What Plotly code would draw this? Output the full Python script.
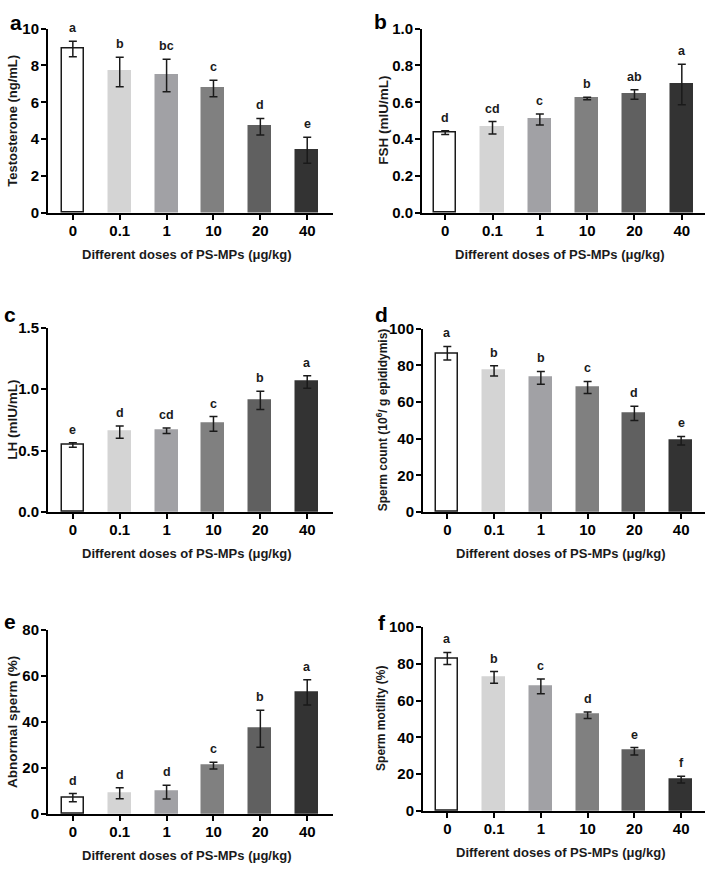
import plotly.graph_objects as go

doses = ["0", "0.1", "1", "10", "20", "40"]
bar_colors = ["#ffffff", "#d4d4d4", "#a1a1a5", "#808080", "#606060", "#333333"]

testo = [8.9, 7.65, 7.46, 6.75, 4.68, 3.4]
testo_err = [0.42, 0.8, 0.88, 0.45, 0.45, 0.7]
testo_lab = ["a", "b", "bc", "c", "d", "e"]

fsh = [0.436, 0.462, 0.507, 0.621, 0.643, 0.697]
fsh_err = [0.01, 0.034, 0.03, 0.007, 0.026, 0.11]
fsh_lab = ["d", "cd", "c", "b", "ab", "a"]

lh = [0.545, 0.65, 0.661, 0.717, 0.908, 1.058]
lh_err = [0.018, 0.05, 0.022, 0.06, 0.074, 0.05]
lh_lab = ["e", "d", "cd", "c", "b", "a"]

sperm_count = [86.6, 77.0, 73.2, 67.9, 53.8, 38.9]
sperm_count_err = [3.7, 2.8, 3.5, 3.3, 3.9, 2.3]
sperm_count_lab = ["a", "b", "b", "c", "d", "e"]

abnormal = [7.1, 9.0, 9.5, 21.0, 37.0, 52.8]
abnormal_err = [1.8, 2.4, 3.0, 1.5, 8.0, 5.5]
abnormal_lab = ["d", "d", "d", "c", "b", "a"]

motility = [82.8, 72.5, 67.7, 52.0, 32.5, 17.1]
motility_err = [3.3, 3.2, 4.0, 1.8, 2.0, 1.8]
motility_lab = ["a", "b", "c", "d", "e", "f"]

W, H = 709, 875
FONT = "Liberation Sans, Arial, sans-serif"
INK = "#1a1a1a"

panels = [
    dict(letter="a", vals=testo, err=testo_err, lab=testo_lab, ytitle="Testosterone (ng/mL)",
         yr=[0, 10], dtick=2, fmt="d", px=(48, 333), py=(20, 208), xr=[-0.53, 5.55],
         ytx=13, ltr=(16, 14), tsize=13),
    dict(letter="b", vals=fsh, err=fsh_err, lab=fsh_lab, ytitle="FSH (mIU/mL)",
         yr=[0, 1.0], dtick=0.2, fmt=".1f", px=(422, 705), py=(20, 208), xr=[-0.49, 5.49],
         ytx=384, ltr=(380, 13), tsize=13.5),
    dict(letter="c", vals=lh, err=lh_err, lab=lh_lab, ytitle="LH (mIU/mL)",
         yr=[0, 1.5], dtick=0.5, fmt=".1f", px=(48, 333), py=(325, 513), xr=[-0.53, 5.55],
         ytx=13, ltr=(10, 312), tsize=13.5),
    dict(letter="d", vals=sperm_count, err=sperm_count_err, lab=sperm_count_lab,
         ytitle="Sperm count (10<sup>6</sup>/ g epididymis)",
         yr=[0, 100], dtick=20, fmt="d", px=(423, 705), py=(326, 513), xr=[-0.52, 5.51],
         ytx=382, ltr=(381, 312), tsize=12),
    dict(letter="e", vals=abnormal, err=abnormal_err, lab=abnormal_lab, ytitle="Abnormal sperm (%)",
         yr=[0, 80], dtick=20, fmt="d", px=(48, 333), py=(633, 821), xr=[-0.53, 5.55],
         ytx=13, ltr=(10, 625), tsize=13.5),
    dict(letter="f", vals=motility, err=motility_err, lab=motility_lab, ytitle="Sperm motility (%)",
         yr=[0, 100], dtick=20, fmt="d", px=(423, 705), py=(630, 818), xr=[-0.52, 5.51],
         ytx=381, ltr=(382, 626), tsize=12),
]

fig = go.Figure()
annotations = []
xpos = list(range(len(doses)))

for i, p in enumerate(panels):
    k = "" if i == 0 else str(i + 1)
    xa, ya = "x" + k, "y" + k
    fig.add_trace(go.Bar(
        x=xpos, y=p["vals"], width=0.47, xaxis=xa, yaxis=ya,
        marker=dict(color=bar_colors,
                    line=dict(color=[INK] + bar_colors[1:], width=1.5)),
        error_y=dict(type="data", array=p["err"], visible=True, color=INK,
                     thickness=1.5, width=4),
        showlegend=False, hoverinfo="skip",
    ))
    x0, x1 = p["px"][0] / W, p["px"][1] / W
    y0, y1 = 1 - p["py"][1] / H, 1 - p["py"][0] / H
    axis_common = dict(showline=True, linecolor="black", linewidth=2, ticks="outside",
                       ticklen=5, tickwidth=2, tickcolor="black", showgrid=False,
                       zeroline=False,
                       tickfont=dict(family=FONT, size=15, color="black", weight="bold"))
    fig.layout["xaxis" + k] = dict(domain=[x0, x1], range=p["xr"], anchor=ya,
                                   tickvals=xpos, ticktext=doses, ticklabelstandoff=-2,
                                   **axis_common)
    fig.layout["yaxis" + k] = dict(domain=[y0, y1], range=p["yr"], anchor=xa,
                                   dtick=p["dtick"], tick0=0, tickformat=p["fmt"],
                                   ticklabelstandoff=-1,
                                   **axis_common)
    # significance letters
    for j in xpos:
        annotations.append(dict(x=j, y=p["vals"][j] + p["err"][j], xref=xa, yref=ya,
                                text=p["lab"][j], showarrow=False, yanchor="bottom",
                                yshift=4,
                                font=dict(family=FONT, size=12.5, color=INK, weight="bold")))
    # x title
    annotations.append(dict(x=(x0 + x1) / 2 - 0.005, y=1 - (p["py"][1] + 42) / H,
                            xref="paper", yref="paper", text="Different doses of PS-MPs (μg/kg)",
                            showarrow=False, xanchor="center", yanchor="middle",
                            font=dict(family=FONT, size=13, color=INK, weight="bold")))
    # y title
    annotations.append(dict(x=p["ytx"] / W, y=(y0 + y1) / 2, xref="paper", yref="paper",
                            text=p["ytitle"], textangle=-90, showarrow=False,
                            xanchor="center", yanchor="middle",
                            font=dict(family=FONT, size=p["tsize"], color=INK, weight="bold")))
    # panel letter
    annotations.append(dict(x=p["ltr"][0] / W, y=1 - p["ltr"][1] / H, xref="paper", yref="paper",
                            text=p["letter"], showarrow=False, xanchor="center", yanchor="middle",
                            font=dict(family=FONT, size=21, color="black", weight="bold")))

fig.update_layout(width=W, height=H, margin=dict(l=0, r=0, t=0, b=0),
                  paper_bgcolor="white", plot_bgcolor="white",
                  annotations=annotations, bargap=0)
fig.write_html("out.html")
